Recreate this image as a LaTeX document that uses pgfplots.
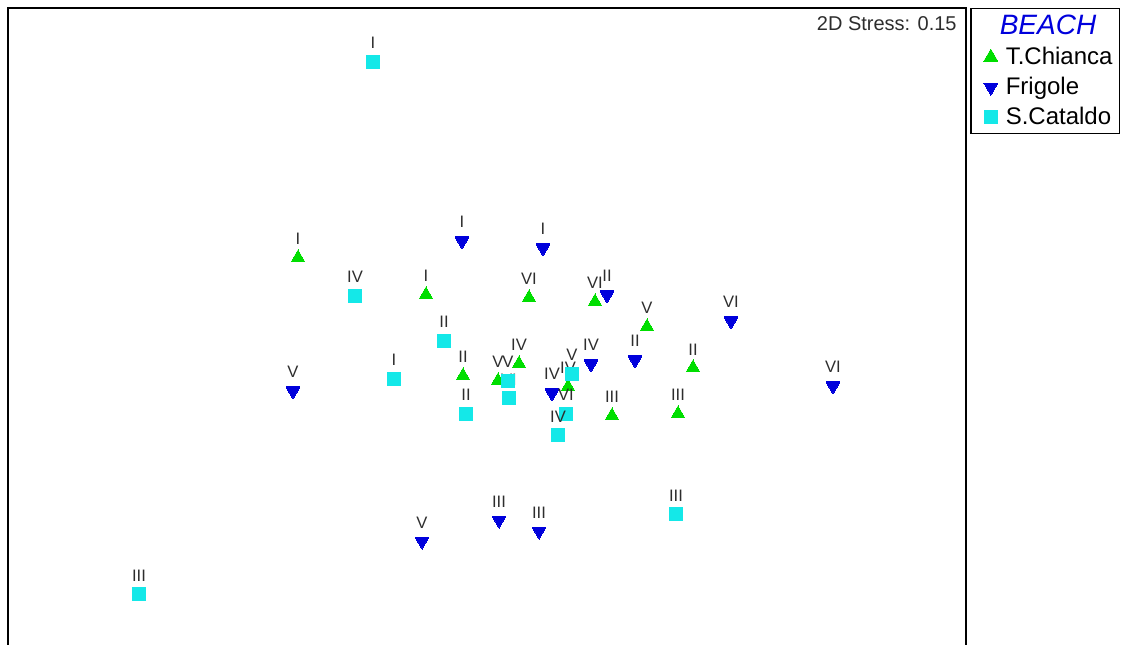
\documentclass[border=0pt]{standalone}
\usepackage{pgfplots}
\pgfplotsset{compat=1.18}
\usepackage{fontspec}
\setmainfont{Liberation Sans}
\definecolor{cgreen}{RGB}{0,222,0}
\definecolor{cblue}{RGB}{0,0,220}
\definecolor{ccyan}{RGB}{20,232,232}
\definecolor{ctext}{RGB}{45,45,45}
\begin{document}
\begin{tikzpicture}
\useasboundingbox (0,0) rectangle (563pt,322pt);
\begin{axis}[
  at={(4pt,-5pt)}, anchor=south west,
  width=479pt, height=323pt, scale only axis,
  xmin=8, xmax=966, ymin=-10, ymax=636,
  xtick=\empty, ytick=\empty,
  axis line style={line width=0.75pt, black},
  clip=false,
  nodes near coords, point meta=explicit symbolic,
  every node near coord/.append style={anchor=south, inner sep=0pt, yshift=6.5pt,
     font=\fontsize{8.3}{9}\selectfont, text=ctext},
  legend style={at={(axis description cs:1.0042,1)}, anchor=north west,
     draw=black, line width=0.75pt, inner xsep=1.5pt, inner ysep=1pt,
     font=\fontsize{12}{13}\selectfont, row sep=0.8pt, column sep=2pt,
     nodes={inner sep=2pt}},
  legend cell align=left,
]
\addlegendimage{empty legend}
\addlegendentry{\hspace{-3pt}\textcolor{cblue}{\fontsize{14}{16}\selectfont\itshape BEACH}}
\addplot[only marks, mark=triangle*, mark size=4pt, color=cgreen, mark options={line width=0pt}]
 table[meta=label] {
x y label
298 386 I
426 349 I
529 346 VI
595 342 VI
647 317 V
693 276 II
463 268 II
519 280 IV
498 263 V
568 257 IV
612 228 III
678 230 III
};
\addlegendentry{T.Chianca}
\addplot[only marks, mark=triangle*, mark size=4pt, color=cblue, mark options={rotate=180, line width=0pt}]
 table[meta=label] {
x y label
462 403 I
543 396 I
607 349 II
731 323 VI
635 284 II
591 280 IV
552 251 IV
293 253 V
833 258 VI
499 124 III
539 113 III
422 103 V
};
\addlegendentry{Frigole}
\addplot[only marks, mark=square*, mark size=3.1pt, color=ccyan, mark options={line width=0pt}]
 table[meta=label] {
x y label
373 582 I
355 348 IV
444 303 II
394 265 I
466 230 II
509 246 VI
508 263 V
572 270 V
566 230 VI
558 209 IV
676 130 III
139 50 III
};
\addlegendentry{S.Cataldo}
\node[anchor=base east, font=\fontsize{10}{11}\selectfont, text=ctext, inner sep=0pt]
  at (axis description cs:0.9906,0.9644) {2D Stress: 0.15};
\end{axis}
\end{tikzpicture}
\end{document}
